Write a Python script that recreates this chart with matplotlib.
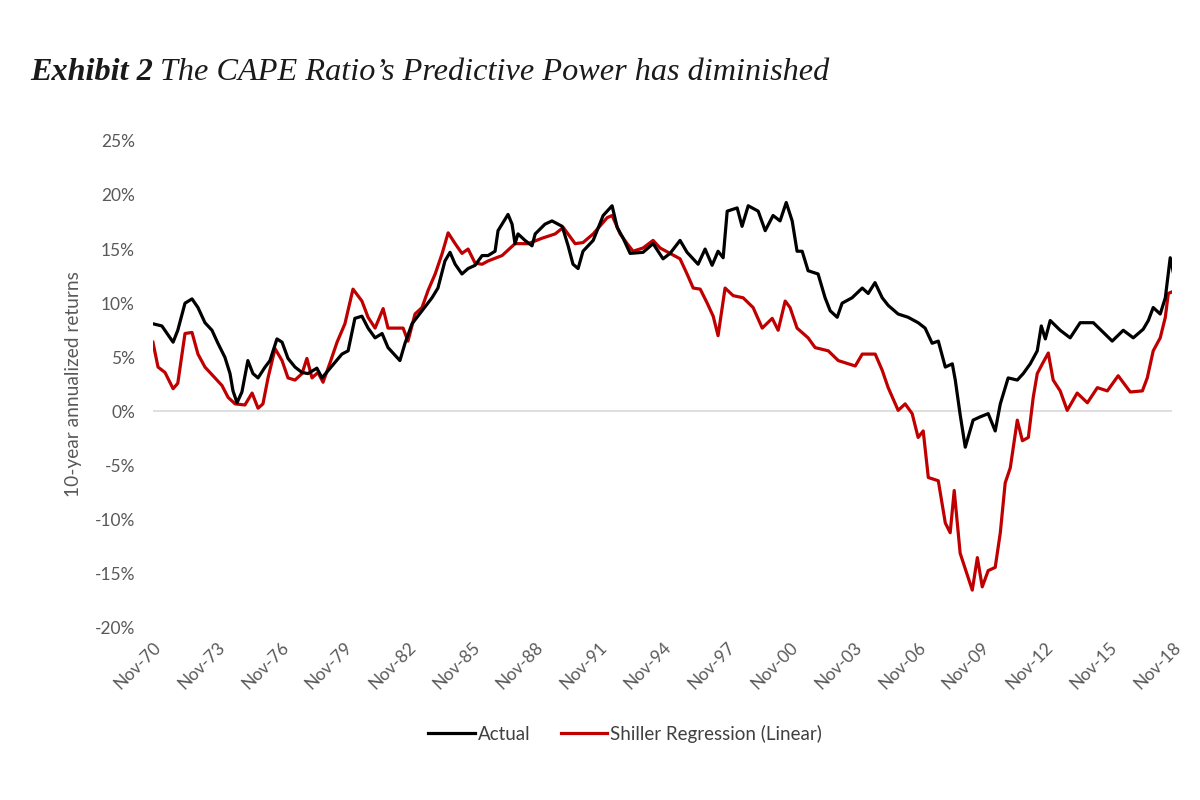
import matplotlib
matplotlib.use("Agg")
import matplotlib.pyplot as plt
from matplotlib.ticker import FixedLocator, FuncFormatter

# ---------------- data (decimal years, % returns) ----------------
actual_dates = [1970.83, 1971.25, 1971.78, 1972.00, 1972.34, 1972.67, 1972.95, 1973.28, 1973.61, 1973.89,
                1974.22, 1974.46, 1974.60, 1974.79, 1975.02, 1975.30, 1975.54, 1975.78, 1976.11, 1976.34,
                1976.67, 1976.91, 1977.19, 1977.52, 1977.85, 1978.13, 1978.55, 1978.79, 1979.26, 1979.73,
                1980.02, 1980.34, 1980.67, 1980.96, 1981.29, 1981.62, 1981.90, 1982.23, 1982.46, 1982.70,
                1983.03, 1983.50, 1983.97, 1984.25, 1984.58, 1984.82, 1985.06, 1985.38, 1985.67, 1986.00,
                1986.33, 1986.61, 1986.94, 1987.08, 1987.55, 1987.74, 1987.88, 1988.02, 1988.35, 1988.68,
                1988.83, 1989.29, 1989.62, 1990.10, 1990.38, 1990.61, 1990.85, 1991.08, 1991.56, 1992.03,
                1992.45, 1992.69, 1992.97, 1993.30, 1993.91, 1994.38, 1994.85, 1995.18, 1995.65, 1995.98,
                1996.50, 1996.83, 1997.16, 1997.44, 1997.68, 1997.87, 1998.34, 1998.57, 1998.86, 1999.33,
                1999.66, 2000.03, 2000.36, 2000.65, 2000.93, 2001.16, 2001.40, 2001.68, 2002.15, 2002.48,
                2002.72, 2003.05, 2003.28, 2003.75, 2004.23, 2004.51, 2004.83, 2005.17, 2005.45, 2005.92,
                2006.39, 2006.86, 2007.19, 2007.52, 2007.81, 2008.14, 2008.47, 2008.61, 2008.84, 2009.08,
                2009.45, 2009.78, 2010.16, 2010.49, 2010.73, 2011.10, 2011.53, 2011.81, 2012.14, 2012.47,
                2012.66, 2012.85, 2013.08, 2013.55, 2014.02, 2014.49, 2015.11, 2015.58, 2016.00, 2016.52,
                2016.99, 2017.46, 2017.70, 2017.93, 2018.26, 2018.50, 2018.73, 2018.88]
actual_values = [8.1, 7.9, 6.4, 7.5, 10.0, 10.4, 9.6, 8.2, 7.5, 6.3,
                 5.0, 3.5, 1.9, 0.8, 1.8, 4.7, 3.5, 3.1, 4.1, 4.7,
                 6.7, 6.4, 4.9, 4.1, 3.6, 3.5, 4.0, 3.1, 4.2, 5.3,
                 5.6, 8.6, 8.8, 7.7, 6.8, 7.2, 5.9, 5.2, 4.7, 6.3,
                 8.1, 9.3, 10.5, 11.4, 13.9, 14.7, 13.6, 12.7, 13.2, 13.5,
                 14.4, 14.4, 14.8, 16.7, 18.2, 17.3, 15.5, 16.4, 15.8, 15.3,
                 16.4, 17.3, 17.6, 17.1, 15.3, 13.6, 13.2, 14.8, 15.8, 18.1,
                 19.0, 17.0, 16.0, 14.6, 14.7, 15.5, 14.1, 14.6, 15.8, 14.7,
                 13.6, 15.0, 13.5, 14.8, 14.2, 18.5, 18.8, 17.1, 19.0, 18.5,
                 16.7, 18.1, 17.6, 19.3, 17.6, 14.8, 14.8, 13.0, 12.7, 10.5,
                 9.3, 8.7, 10.0, 10.5, 11.4, 10.9, 11.9, 10.5, 9.8, 9.0,
                 8.7, 8.2, 7.7, 6.3, 6.5, 4.1, 4.4, 2.9, -0.3, -3.3,
                 -0.8, -0.5, -0.2, -1.8, 0.7, 3.1, 2.9, 3.5, 4.4, 5.6,
                 7.9, 6.7, 8.4, 7.5, 6.8, 8.2, 8.2, 7.3, 6.5, 7.5,
                 6.8, 7.6, 8.4, 9.6, 9.0, 10.5, 14.2, 12.8]

shiller_dates = [1970.83, 1971.07, 1971.40, 1971.78, 1972.00, 1972.34, 1972.67, 1972.95, 1973.28, 1973.75,
                 1974.08, 1974.37, 1974.70, 1975.16, 1975.50, 1975.78, 1976.01, 1976.25, 1976.58, 1976.91,
                 1977.19, 1977.52, 1977.85, 1978.08, 1978.32, 1978.60, 1978.84, 1979.17, 1979.50, 1979.87,
                 1980.25, 1980.67, 1980.96, 1981.29, 1981.67, 1981.90, 1982.23, 1982.61, 1982.84, 1983.17,
                 1983.50, 1983.79, 1984.12, 1984.45, 1984.73, 1985.06, 1985.38, 1985.67, 1986.00, 1986.33,
                 1986.61, 1987.27, 1987.88, 1988.50, 1989.15, 1989.77, 1990.15, 1990.71, 1991.08, 1991.56,
                 1992.22, 1992.45, 1992.83, 1993.16, 1993.44, 1993.91, 1994.38, 1994.71, 1995.18, 1995.65,
                 1995.98, 1996.27, 1996.60, 1996.93, 1997.21, 1997.44, 1997.77, 1998.15, 1998.62, 1999.09,
                 1999.52, 1999.99, 2000.27, 2000.60, 2000.83, 2001.16, 2001.68, 2002.01, 2002.63, 2003.10,
                 2003.90, 2004.23, 2004.84, 2005.17, 2005.45, 2005.92, 2006.25, 2006.58, 2006.86, 2007.10,
                 2007.34, 2007.81, 2008.14, 2008.37, 2008.56, 2008.84, 2009.41, 2009.65, 2009.88, 2010.16,
                 2010.49, 2010.73, 2010.96, 2011.20, 2011.53, 2011.77, 2012.05, 2012.28, 2012.47, 2012.71,
                 2012.99, 2013.22, 2013.55, 2013.88, 2014.35, 2014.83, 2015.30, 2015.77, 2016.28, 2016.85,
                 2017.42, 2017.65, 2017.93, 2018.26, 2018.50, 2018.64, 2018.88]
shiller_values = [6.4, 4.1, 3.6, 2.1, 2.6, 7.2, 7.3, 5.3, 4.1, 3.1,
                  2.4, 1.3, 0.7, 0.6, 1.7, 0.3, 0.7, 3.1, 5.8, 4.7,
                  3.1, 2.9, 3.5, 4.9, 3.1, 3.6, 2.7, 4.5, 6.4, 8.1,
                  11.3, 10.2, 8.7, 7.7, 9.5, 7.7, 7.7, 7.7, 6.5, 9.0,
                  9.6, 11.2, 12.7, 14.6, 16.5, 15.5, 14.6, 15.0, 13.7, 13.6,
                  13.9, 14.4, 15.5, 15.5, 16.0, 16.4, 17.0, 15.5, 15.6, 16.4,
                  17.9, 18.1, 16.4, 15.5, 14.8, 15.1, 15.8, 15.1, 14.6, 14.1,
                  12.7, 11.4, 11.3, 10.0, 8.8, 7.0, 11.4, 10.7, 10.5, 9.6,
                  7.7, 8.6, 7.5, 10.2, 9.6, 7.7, 6.8, 5.9, 5.6, 4.7,
                  4.2, 5.3, 5.3, 3.8, 2.2, 0.1, 0.7, -0.2, -2.4, -1.8,
                  -6.1, -6.4, -10.3, -11.2, -7.3, -13.1, -16.5, -13.5, -16.2, -14.7,
                  -14.4, -11.2, -6.6, -5.2, -0.8, -2.7, -2.4, 1.3, 3.5, 4.4,
                  5.4, 2.9, 1.9, 0.1, 1.7, 0.8, 2.2, 1.9, 3.3, 1.8,
                  1.9, 3.1, 5.6, 6.8, 8.7, 10.9, 11.1]

tick_years = [1970, 1973, 1976, 1979, 1982, 1985, 1988, 1991, 1994, 1997, 2000, 2003, 2006, 2009, 2012, 2015, 2018]
tick_labels = ["Nov-70", "Nov-73", "Nov-76", "Nov-79", "Nov-82", "Nov-85", "Nov-88", "Nov-91", "Nov-94",
               "Nov-97", "Nov-00", "Nov-03", "Nov-06", "Nov-09", "Nov-12", "Nov-15", "Nov-18"]
y_ticks = [-20, -15, -10, -5, 0, 5, 10, 15, 20, 25]

series_names = ["Actual", "Shiller Regression (Linear)"]
series_colors = ["#000000", "#C00000"]

# ---------------- figure ----------------
plt.rcParams['font.family'] = ['Lato', 'DejaVu Sans']
fig = plt.figure(figsize=(12, 8), dpi=100)
ax = fig.add_axes([0.1275, 0.215, 0.8495, 0.609])

tick_pos = [y + 10 / 12 for y in tick_years]
ax.axhline(0, color="#D9D9D9", lw=1.2, zorder=1)
ax.plot(actual_dates, actual_values, color=series_colors[0], lw=2.3, label=series_names[0], zorder=3)
ax.plot(shiller_dates, shiller_values, color=series_colors[1], lw=2.3, label=series_names[1], zorder=2)

ax.set_xlim(tick_pos[0], tick_pos[-1])
ax.set_ylim(-20, 25)
ax.xaxis.set_major_locator(FixedLocator(tick_pos))
ax.set_xticklabels(tick_labels)
ax.yaxis.set_major_locator(FixedLocator(y_ticks))
ax.yaxis.set_major_formatter(FuncFormatter(lambda v, p: f"{int(v)}%"))

for s in ax.spines.values():
    s.set_visible(False)
ax.tick_params(axis="both", length=0, colors="#595959", labelsize=12.5)
ax.tick_params(axis="y", pad=13)
ax.tick_params(axis="x", pad=8)
for lab in ax.get_xticklabels():
    lab.set_rotation(45)
    lab.set_ha("right")
    lab.set_va("top")
    lab.set_rotation_mode("anchor")

ax.set_ylabel("10-year annualized returns", color="#595959", fontsize=13.8, labelpad=9)

leg = fig.legend(loc="center", bbox_to_anchor=(0.521, 0.083), ncol=2, frameon=False,
                 fontsize=13.5, handlelength=2.5, columnspacing=1.6, handletextpad=0.15)
for t in leg.get_texts():
    t.set_color("#404040")

# title: bold italic part + italic part
renderer = fig.canvas.get_renderer()
t1 = fig.text(0.025, 0.9, "Exhibit 2", fontsize=23.2, fontweight="bold", fontstyle="italic",
              family=["Liberation Serif", "DejaVu Serif"], color="#1a1a1a")
bb = t1.get_window_extent(renderer=renderer)
x2 = (bb.x1 + 7) / fig.bbox.width
fig.text(x2, 0.9, "The CAPE Ratio\u2019s Predictive Power has diminished", fontsize=23.2,
         fontstyle="italic", family=["Liberation Serif", "DejaVu Serif"], color="#1a1a1a")

fig.savefig("out.png", dpi=100, facecolor="white")
